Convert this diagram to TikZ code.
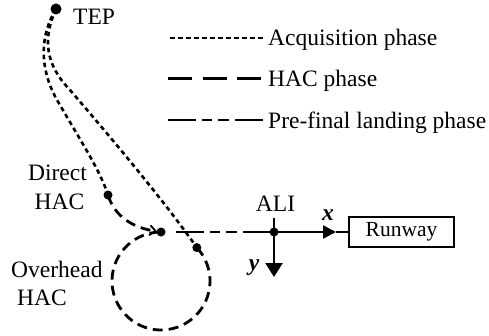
\documentclass[tikz,border=0pt]{standalone}
\usepackage{fontspec}
\setmainfont{Liberation Serif}
\usetikzlibrary{arrows.meta,calc}

\begin{document}
\begin{tikzpicture}[x=1pt,y=1pt,
  dot/.style={circle,fill=black,inner sep=0pt,minimum size=9pt},
  acq/.style={line width=2.6pt,dash pattern=on 4.5pt off 3.5pt},
  hac/.style={line width=2.8pt,dash pattern=on 10pt off 6pt},
  hacleg/.style={line width=3pt,dash pattern=on 24pt off 10.5pt},
  prefinal/.style={line width=2.8pt,dash pattern=on 28pt off 6pt on 10pt off 6pt on 11pt off 6pt on 30pt off 0pt},
  axis/.style={line width=2.4pt},
  lbl/.style={inner sep=0pt,font=\fontsize{23.5}{28}\selectfont},
]
\useasboundingbox (0,0) rectangle (489,335);

% way points
\node[dot,minimum size=11pt] (tep) at (56,326) {};
\node[dot] (dhac) at (108,140) {};
\node[dot] (junc) at (161,103) {};
\coordinate (cc) at (161,54);
\node[dot] (ohac) at ($(cc)+(43:49)$) {};
\node[dot] (ali) at (274,103) {};

% labels
\node[lbl,anchor=base west] (ltep) at (73,310.5) {TEP};
\node[lbl,anchor=base] (ldir) at (57.5,154.5) {Direct};
\node[lbl,anchor=base] (ldhac) at (59.5,125.5) {HAC};
\node[lbl,anchor=base west] (lover) at (11,57.5) {Overhead};
\node[lbl,anchor=base west] (lohac) at (17,29.5) {HAC};
\node[lbl,anchor=base] (lali) at (275.5,123.5) {ALI};
\node[lbl,anchor=base] (lx) at (328,115) {\textbf{\textit{x}}};
\node[lbl,anchor=base] (ly) at (254,65) {\textbf{\textit{y}}};

% runway
\node[draw,line width=1.5pt,minimum width=105pt,minimum height=30pt,inner sep=0pt,
      font=\fontsize{21.5}{25}\selectfont] (rw) at (401.5,103) {Runway};

% acquisition phase: TEP to the two HAC entry points
\draw[acq] (tep.center) .. controls (40,300) and (38,265) .. (60,230)
           .. controls (80,195) and (100,165) .. (dhac.center);
\draw[acq] (tep.center) .. controls (42,295) and (46,270) .. (70,245)
           .. controls (100,210) and (160,140) .. (ohac.center);

% HAC phase
\draw[hac,shorten >=4pt,-{Straight Barb[length=6pt,width=10pt,line width=1.8pt]}]
  (dhac.center) .. controls (115,117) and (135,107) .. (junc.center);
\draw[hac] (ohac.center) arc[start angle=43,end angle=-270,radius=49];

% pre-final landing phase
\draw[prefinal] ([xshift=15pt]junc.center) -- (ali.center);

% runway frame axes
\coordinate (tick) at (274,117);
\coordinate (xtip) at (336,103);
\coordinate (ytip) at (274,58);
\draw[axis] (tick) -- (ali.center);
\draw[axis,-{Triangle[length=13pt,width=13pt]}] (ali.center) -- (xtip);
\draw[axis] (xtip) -- (rw.west);
\draw[axis,-{Triangle[length=14pt,width=17pt]}] (ali.center) -- (ytip);

% legend
\coordinate (la) at (170,297);
\coordinate (lh) at (168,256);
\coordinate (lp) at (168,215);
\draw[acq] (la) -- ++(93,0);
\draw[hacleg] (lh) -- ++(93,0);
\draw[prefinal] (lp) -- ++(95,0);
\node[lbl,anchor=base west] (tacq) at (268,289) {Acquisition phase};
\node[lbl,anchor=base west] (thac) at (268,248) {HAC phase};
\node[lbl,anchor=base west] (tpre) at (268,207) {Pre-final landing phase};
\end{tikzpicture}
\end{document}
